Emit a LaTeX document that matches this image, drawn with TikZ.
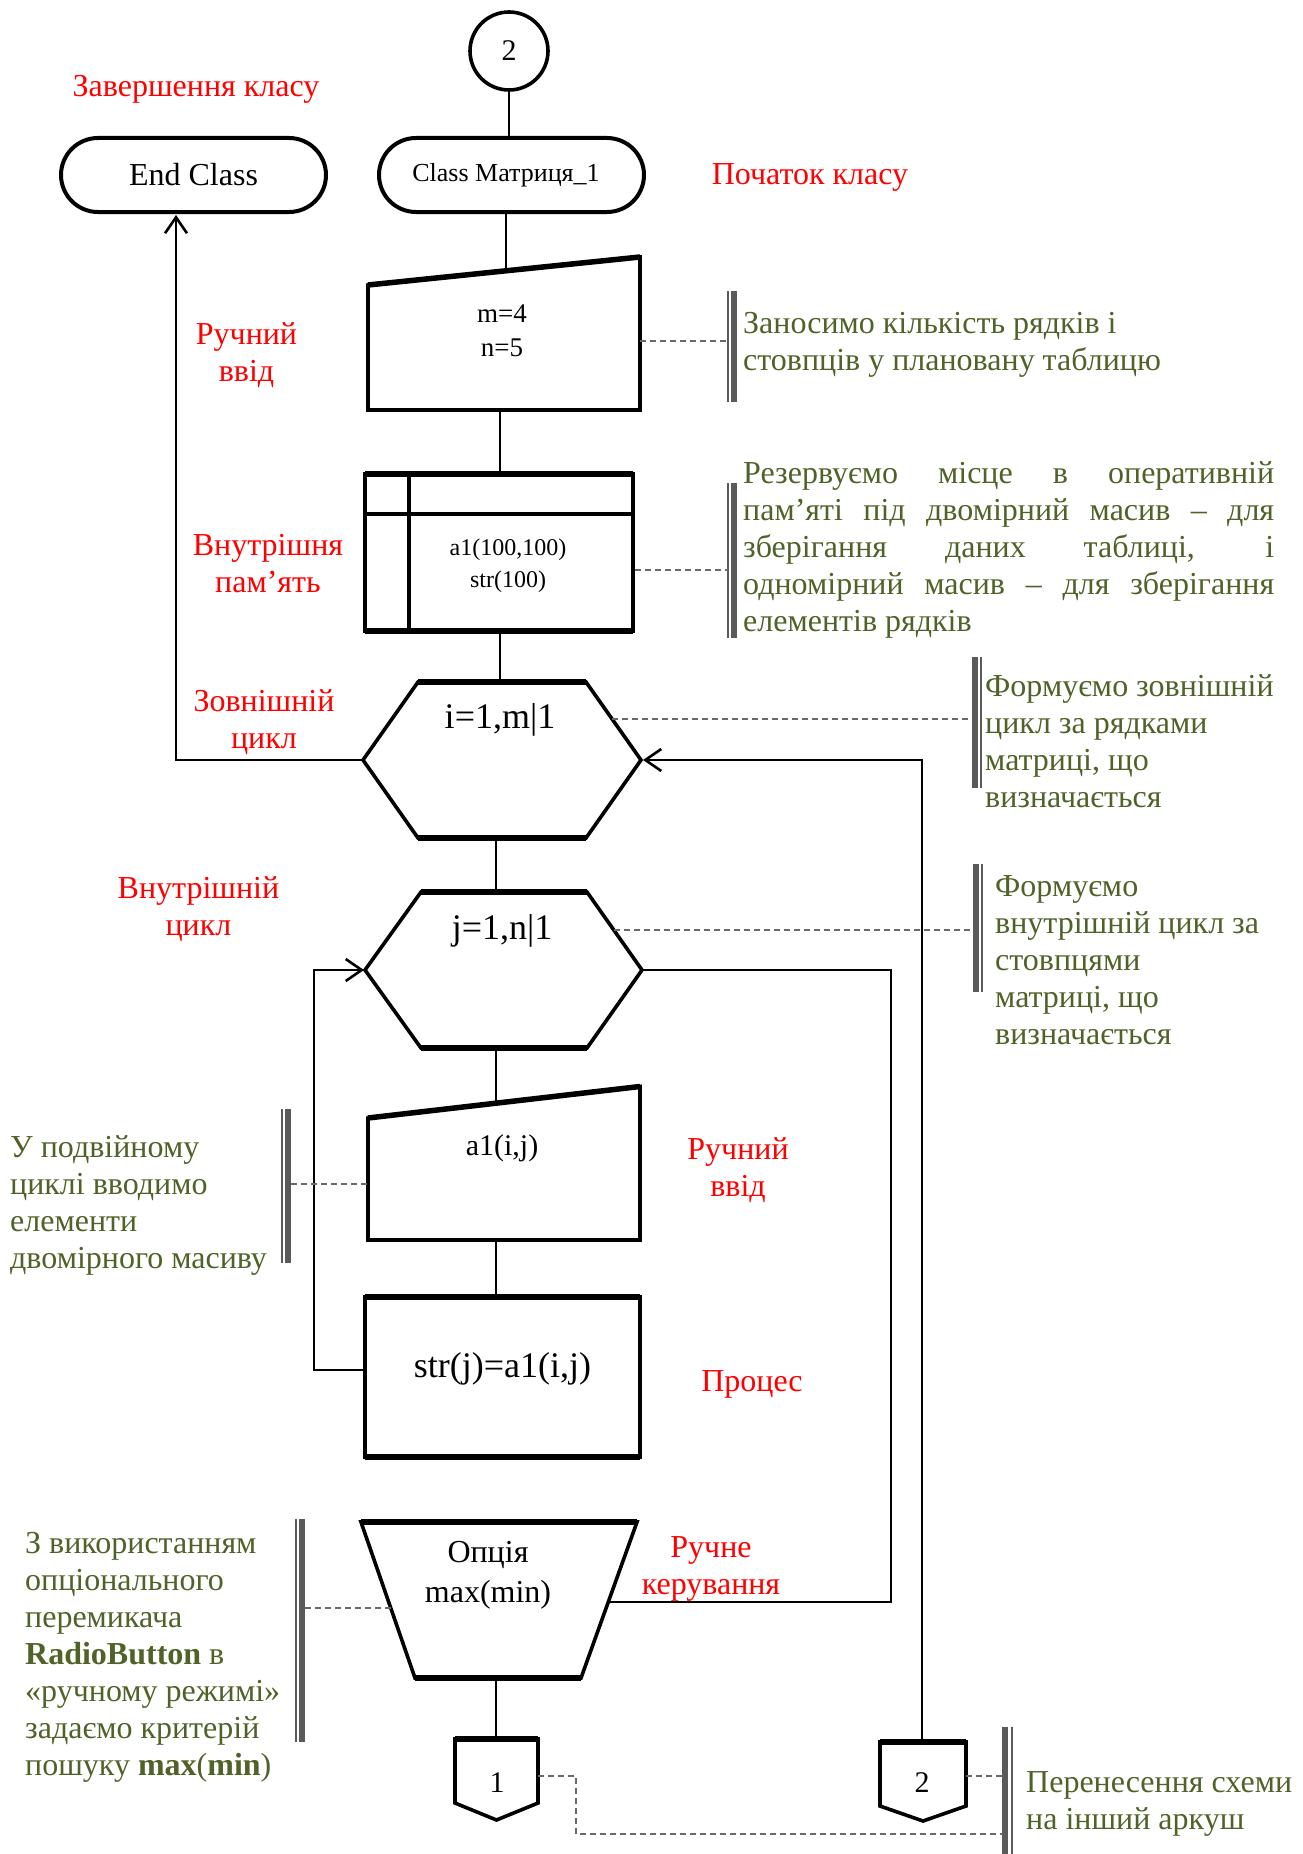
\documentclass[tikz,border=0pt]{standalone}
\usepackage{fontspec}
\setmainfont{Liberation Serif}
\usetikzlibrary{arrows.meta,shapes.misc}
\definecolor{olivegr}{RGB}{79,98,40}
\definecolor{dgray}{RGB}{105,105,105}
\definecolor{bgray}{RGB}{90,90,90}
\newcommand\fsz[2]{\fontsize{#1pt}{#2pt}\selectfont}
\newcommand\ctr[2]{\parbox[t]{#1pt}{\centering #2}}
\newcommand\lft[2]{\parbox[t]{#1pt}{\raggedright #2}}
\begin{document}
\begin{tikzpicture}[x=1pt,y=-1pt,
  shp/.style={line width=3.6pt, line join=miter},
  thk/.style={line width=5.5pt},
  conn/.style={line width=2.6pt},
  arr/.style={conn, -{Straight Barb[length=16pt,width=22pt,line width=2.6pt]}},
  dsh/.style={draw=dgray, line width=1.6pt, dash pattern=on 6pt off 4pt},
  thinbar/.style={draw=bgray, line width=1.8pt},
  thickbar/.style={draw=bgray, line width=5.5pt},
  lbl/.style={text=red, font=\fsz{32}{37}, inner sep=0pt, anchor=base},
  note/.style={text=olivegr, font=\fsz{32}{37}, inner sep=0pt, anchor=base west},
  ftxt/.style={inner sep=0pt, anchor=base},
  term/.style={rounded rectangle, draw, line width=4pt, minimum width=265pt, minimum height=74pt, inner sep=0pt}
]
\useasboundingbox (0,0) rectangle (1302,1854);

% ---------- top: connector circle and terminals ----------
\node[circle, draw, line width=3.6pt, minimum size=78pt, inner sep=0pt, font=\fsz{30}{34}] (c2) at (509,51) {2};
\node[term] (cls) at (511.5,175) {};
\node[ftxt, font=\fsz{26}{30}] (clst) at (506,182) {Class Матриця\_1};
\node[term, font=\fsz{32}{36}] (endc) at (193.5,175) {End Class};

% ---------- manual input 1 ----------
\coordinate (i1a) at (368,285); \coordinate (i1b) at (640,257);
\coordinate (i1c) at (640,410); \coordinate (i1d) at (368,410);
\draw[shp] (i1a)--(i1b)--(i1c)--(i1d)--cycle;
\draw[thk] (i1a)--(i1b);
\node[ftxt, font=\fsz{27}{34}] (in1) at (502,322) {\ctr{200}{m=4\\n=5}};

% ---------- internal memory ----------
\coordinate (ma) at (365,474); \coordinate (mb) at (633,474);
\coordinate (mc) at (633,631); \coordinate (md) at (365,631);
\draw[shp] (ma)--(mb)--(mc)--(md)--cycle;
\draw[thk] (ma)--(mb); \draw[thk] (md)--(mc);
\draw[line width=3.2pt] (365,514)--(633,514);
\draw[line width=3.2pt] (409,474)--(409,631);
\node[ftxt, font=\fsz{24}{32}] (mem) at (508,555) {\ctr{250}{a1(100,100)\\str(100)}};

% ---------- outer loop hexagon ----------
\coordinate (h1l) at (363,760); \coordinate (h1tl) at (418,682);
\coordinate (h1tr) at (586,682); \coordinate (h1r) at (641,760);
\coordinate (h1br) at (586,838); \coordinate (h1bl) at (418,838);
\draw[shp] (h1l)--(h1tl)--(h1tr)--(h1r)--(h1br)--(h1bl)--cycle;
\draw[thk] (h1tl)--(h1tr); \draw[thk] (h1bl)--(h1br);
\node[ftxt, font=\fsz{36}{40}] (hx1) at (500,728) {i=1,m|1};

% ---------- inner loop hexagon ----------
\coordinate (h2l) at (365,970); \coordinate (h2tl) at (421,892);
\coordinate (h2tr) at (587,892); \coordinate (h2r) at (642,970);
\coordinate (h2br) at (587,1048); \coordinate (h2bl) at (421,1048);
\draw[shp] (h2l)--(h2tl)--(h2tr)--(h2r)--(h2br)--(h2bl)--cycle;
\draw[thk] (h2tl)--(h2tr); \draw[thk] (h2bl)--(h2br);
\node[ftxt, font=\fsz{36}{40}] (hx2) at (502,939) {j=1,n|1};

% ---------- manual input 2 ----------
\coordinate (i2a) at (368,1118); \coordinate (i2b) at (640,1086.5);
\coordinate (i2c) at (640,1240); \coordinate (i2d) at (368,1240);
\draw[shp] (i2a)--(i2b)--(i2c)--(i2d)--cycle;
\draw[thk] (i2a)--(i2b);
\node[ftxt, font=\fsz{30}{34}] (in2) at (502,1155) {a1(i,j)};

% ---------- process ----------
\coordinate (pa) at (365,1297); \coordinate (pb) at (640,1297);
\coordinate (pc) at (640,1457); \coordinate (pd) at (365,1457);
\draw[shp] (pa)--(pb)--(pc)--(pd)--cycle;
\draw[thk] (pa)--(pb); \draw[thk] (pd)--(pc);
\node[ftxt, font=\fsz{36}{40}] (proc) at (502.5,1377) {str(j)=a1(i,j)};

% ---------- manual operation (trapezoid) ----------
\coordinate (ta) at (361,1522); \coordinate (tb) at (637,1522);
\coordinate (tc) at (581,1678); \coordinate (td) at (415,1678);
\draw[shp] (ta)--(tb)--(tc)--(td)--cycle;
\draw[thk] (ta)--(tb); \draw[thk] (td)--(tc);
\node[ftxt, font=\fsz{32}{40}] (trap) at (488,1562) {\ctr{200}{Опція\\max(min)}};

% ---------- off-page connectors ----------
\coordinate (o1a) at (455,1739); \coordinate (o1b) at (538,1739);
\coordinate (o1c) at (538,1803); \coordinate (o1d) at (496.5,1820);
\coordinate (o1e) at (455,1803);
\draw[shp] (o1a)--(o1b)--(o1c)--(o1d)--(o1e)--cycle;
\draw[thk] (o1a)--(o1b);
\node[ftxt, font=\fsz{30}{34}] (off1) at (497,1792) {1};
\coordinate (o2a) at (880,1742); \coordinate (o2b) at (966,1742);
\coordinate (o2c) at (966,1806); \coordinate (o2d) at (923,1821);
\coordinate (o2e) at (880,1806);
\draw[shp] (o2a)--(o2b)--(o2c)--(o2d)--(o2e)--cycle;
\draw[thk] (o2a)--(o2b);
\node[ftxt, font=\fsz{30}{34}] (off2) at (922,1792) {2};

% ---------- connectors ----------
\coordinate (i1top) at (506,271);
\coordinate (i1bot) at (500,410); \coordinate (memtop) at (500,474);
\coordinate (membot) at (500,631); \coordinate (h1top) at (500,682);
\coordinate (h1bot) at (496,838); \coordinate (h2top) at (496,892);
\coordinate (h2bot) at (496,1048); \coordinate (i2top) at (496,1103);
\coordinate (i2bot) at (496,1240); \coordinate (prtop) at (496,1297);
\coordinate (trbot) at (496,1678); \coordinate (o1top) at (496,1739);
\coordinate (o2top) at (922,1742);
\coordinate (ecin) at (176,215);
\coordinate (h1rin) at (643,760);
\coordinate (rc) at (891,1602); \coordinate (trR) at (608,1602);
\coordinate (prL) at (365,1370); \coordinate (lc1) at (314,1370);
\coordinate (lc2) at (314,970); \coordinate (h2lin) at (364,970);

\draw[conn] (c2.south) -- (c2.south |- cls.north);
\draw[conn] (i1top |- cls.south) -- (i1top);
\draw[conn] (i1bot) -- (memtop);
\draw[conn] (membot) -- (h1top);
\draw[conn] (h1bot) -- (h2top);
\draw[conn] (h2bot) -- (i2top);
\draw[conn] (i2bot) -- (prtop);
\draw[conn] (trbot) -- (o1top);
\draw[arr] (h1l) -| (ecin);
\draw[arr] (o2top) |- (h1rin);
\draw[conn] (h2r) -| (rc) -- (trR);
\draw[arr] (prL) -- (lc1) -- (lc2) -- (h2lin);

% ---------- annotation bars ----------
\draw[thinbar] (728,291) -- (728,402); \draw[thickbar] (734,291) -- (734,402);
\coordinate (b1) at (728,341);
\draw[thinbar] (728,483) -- (728,638); \draw[thickbar] (734,483) -- (734,638);
\coordinate (b2) at (728,570);
\draw[thickbar] (975,657) -- (975,788); \draw[thinbar] (981,657) -- (981,788);
\coordinate (b3) at (972,719);
\draw[thickbar] (976,864) -- (976,992); \draw[thinbar] (982,864) -- (982,992);
\coordinate (b4) at (973,930);
\draw[thinbar] (282,1109) -- (282,1263); \draw[thickbar] (288,1109) -- (288,1263);
\coordinate (b5) at (291,1184);
\draw[thinbar] (296,1519) -- (296,1742); \draw[thickbar] (302,1519) -- (302,1742);
\coordinate (b6) at (305,1608);
\draw[thickbar] (1005,1727) -- (1005,1854); \draw[thinbar] (1012,1727) -- (1012,1854);
\coordinate (b7a) at (1003,1776); \coordinate (b7b) at (1003,1834);

% ---------- dashed leaders ----------
\coordinate (d1) at (640,341);
\coordinate (d2) at (635,570);
\coordinate (d3) at (612,719);
\coordinate (d4) at (614,930);
\coordinate (d5) at (367,1184);
\coordinate (d6) at (391,1608);
\coordinate (d7) at (538,1776); \coordinate (d7m) at (576,1776); \coordinate (d7n) at (576,1834);
\coordinate (d8) at (966,1776);
\draw[dsh] (d1) -- (b1);
\draw[dsh] (d2) -- (b2);
\draw[dsh] (d3) -- (b3);
\draw[dsh] (d4) -- (b4);
\draw[dsh] (d5) -- (b5);
\draw[dsh] (d6) -- (b6);
\draw[dsh] (d7) -- (d7m) -- (d7n) -- (b7b);
\draw[dsh] (d8) -- (b7a);

% ---------- red labels ----------
\node[lbl] (lEnd) at (196,97) {Завершення класу};
\node[lbl] (lBeg) at (810,185) {Початок класу};
\node[lbl] (lIn1) at (246.5,344) {\ctr{200}{Ручний\\ввід}};
\node[lbl] (lMem) at (268,555) {\ctr{220}{Внутрішня\\пам’ять}};
\node[lbl] (lOut) at (264,711) {\ctr{200}{Зовнішній\\цикл}};
\node[lbl] (lInn) at (198.5,898) {\ctr{220}{Внутрішній\\цикл}};
\node[lbl] (lIn2) at (738,1159) {\ctr{200}{Ручний\\ввід}};
\node[lbl] (lPrc) at (752,1391) {Процес};
\node[lbl] (lMan) at (711,1557) {\ctr{220}{Ручне\\керування}};

% ---------- green notes ----------
\node[note] (n1) at (743,333) {\lft{560}{Заносимо кількість рядків і\\стовпців у плановану таблицю}};
\node[note] (n2) at (743,483) {\parbox[t]{531pt}{\hyphenpenalty=10000 Резервуємо місце в оперативній\linebreak пам’яті під двомірний масив – для\linebreak зберігання даних таблиці, і\linebreak одномірний масив – для зберігання\linebreak елементів рядків}};
\node[note] (n3) at (985,696) {\lft{320}{Формуємо зовнішній\\цикл за рядками\\матриці, що\\визначається}};
\node[note] (n4) at (995,896) {\lft{300}{Формуємо\\внутрішній цикл за\\стовпцями\\матриці, що\\визначається}};
\node[note] (n5) at (10,1157) {\lft{280}{У подвійному\\циклі вводимо\\елементи\\двомірного масиву}};
\node[note] (n6) at (25,1553) {\lft{280}{З використанням\\опціонального\\перемикача\\\textbf{RadioButton} в\\«ручному режимі»\\задаємо критерій\\пошуку \textbf{max}(\textbf{min})}};
\node[note] (n7) at (1026,1792) {\lft{290}{Перенесення схеми\\на інший аркуш}};
\end{tikzpicture}
\end{document}
